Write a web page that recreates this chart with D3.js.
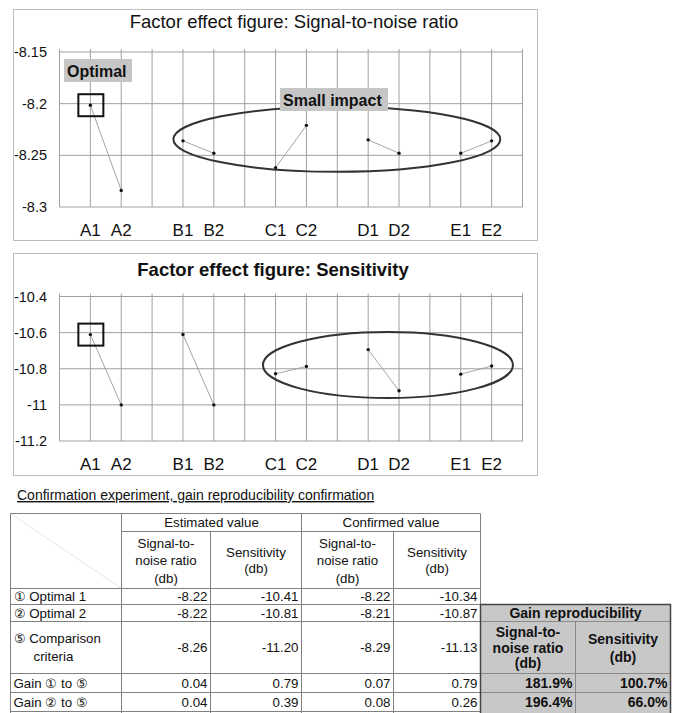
<!DOCTYPE html>
<html>
<head>
<meta charset="utf-8">
<script src="https://cdn.jsdelivr.net/npm/d3@7"></script>
<style>
  body { margin: 0; background: #fff; }
  svg { display: block; font-family: "Liberation Sans", Arial, sans-serif; }
</style>
</head>
<body>
<script>
// factor levels on the x axis
const factors = ["A", "B", "C", "D", "E"];
const levels = ["1", "2"];
const categories = factors.flatMap(f => levels.map(l => f + l));

// factor effect values
const snValues = [-8.2015, -8.284, -8.236, -8.248, -8.262, -8.221, -8.235, -8.248, -8.248, -8.236];
const sensValues = [-10.611, -11.0, -10.61, -11.0, -10.828, -10.787, -10.694, -10.922, -10.83, -10.785];
const snTicks = [-8.3, -8.25, -8.2, -8.15];
const sensTicks = [-11.2, -11, -10.8, -10.6, -10.4];

// confirmation table
const rowLabels = [["① Optimal 1"], ["② Optimal 2"], ["⑤ Comparison", "criteria"], ["Gain ① to ⑤"], ["Gain ② to ⑤"]];
const estSN = [-8.22, -8.22, -8.26, 0.04, 0.04];
const estSens = [-10.41, -10.81, -11.20, 0.79, 0.39];
const confSN = [-8.22, -8.21, -8.29, 0.07, 0.08];
const confSens = [-10.34, -10.87, -11.13, 0.79, 0.26];
const reproSN = [181.9, 196.4];
const reproSens = [100.7, 66.0];

const svg = d3.select("body").append("svg")
  .attr("width", 677)
  .attr("height", 713);

// slots: a blank slot before each factor and one at the end
const slots = factors.flatMap(f => ["gap" + f, ...levels.map(l => f + l)]).concat(["end"]);
const x = d3.scalePoint().domain(slots).range([59.5, 522.5]);
const u = d3.scaleLinear().domain([0, slots.length - 1]).range(x.range());

function drawChart(opt) {
  const g = svg.append("g");
  const y = d3.scaleLinear().domain(d3.extent(opt.ticks)).range(opt.yRange);

  g.append("rect")
    .attr("x", opt.panel[0]).attr("y", opt.panel[1])
    .attr("width", opt.panel[2]).attr("height", opt.panel[3])
    .attr("fill", "#fff").attr("stroke", "#bdbdbd");

  g.append("text")
    .attr("x", opt.titleX).attr("y", opt.titleY)
    .attr("text-anchor", "middle")
    .style("font-size", "18.5px")
    .style("font-weight", opt.titleBold ? "bold" : "normal")
    .attr("fill", "#111")
    .text(opt.title);

  // grid
  g.selectAll("line.v").data(slots).enter().append("line")
    .attr("x1", d => x(d)).attr("x2", d => x(d))
    .attr("y1", opt.yRange[1] - 3).attr("y2", opt.yRange[0])
    .attr("stroke", "#a0a0a0").attr("stroke-width", 1);
  g.selectAll("line.h").data(opt.ticks).enter().append("line")
    .attr("x1", x.range()[0]).attr("x2", x.range()[1])
    .attr("y1", d => y(d)).attr("y2", d => y(d))
    .attr("stroke", "#a0a0a0").attr("stroke-width", 1);

  g.selectAll("text.tick").data(opt.ticks).enter().append("text")
    .attr("x", 47).attr("y", d => y(d)).attr("dy", "0.35em")
    .attr("text-anchor", "end")
    .style("font-size", "14.5px").attr("fill", "#111")
    .text(d => String(d));

  g.selectAll("text.cat").data(categories).enter().append("text")
    .attr("x", d => x(d)).attr("y", opt.yRange[0] + 29)
    .attr("text-anchor", "middle")
    .style("font-size", "17px").attr("fill", "#111")
    .text(d => d);

  const pts = categories.map((c, i) => ({ c: c, v: opt.values[i] }));
  const line = d3.line().x(d => x(d.c)).y(d => y(d.v));
  factors.forEach((f, i) => {
    g.append("path")
      .attr("d", line(pts.slice(i * 2, i * 2 + 2)))
      .attr("fill", "none").attr("stroke", "#9a9a9a").attr("stroke-width", 0.9);
  });
  g.selectAll("circle").data(pts).enter().append("circle")
    .attr("cx", d => x(d.c)).attr("cy", d => y(d.v)).attr("r", 1.7)
    .attr("fill", "#111");

  // optimal box around A1
  g.append("rect")
    .attr("x", x("A1") - 12).attr("y", y(opt.values[0]) - 11)
    .attr("width", 25).attr("height", 22)
    .attr("fill", "none").attr("stroke", "#111").attr("stroke-width", 2);

  // small impact ellipse
  const e = opt.ellipse;
  g.append("ellipse")
    .attr("cx", (u(e.x[0]) + u(e.x[1])) / 2)
    .attr("cy", (y(e.y[0]) + y(e.y[1])) / 2)
    .attr("rx", (u(e.x[1]) - u(e.x[0])) / 2)
    .attr("ry", Math.abs(y(e.y[1]) - y(e.y[0])) / 2)
    .attr("fill", "none").attr("stroke", "#333").attr("stroke-width", 2);

  (opt.callouts || []).forEach(c => {
    g.append("rect")
      .attr("x", c.x).attr("y", c.y).attr("width", c.w).attr("height", 23)
      .attr("fill", "#c6c6c6");
    g.append("text")
      .attr("x", c.x + 3).attr("y", c.y + 17.5)
      .style("font-size", "16px").style("font-weight", "bold").attr("fill", "#111")
      .text(c.text);
  });
}

drawChart({
  panel: [13.5, 9.5, 524, 231],
  title: "Factor effect figure: Signal-to-noise ratio",
  titleX: 294, titleY: 28, titleBold: false,
  values: snValues, ticks: snTicks, yRange: [207, 52],
  ellipse: { x: [3.69, 14.28], y: [-8.203, -8.266] },
  callouts: [
    { text: "Optimal", x: 64, y: 59, w: 68 },
    { text: "Small impact", x: 280, y: 88, w: 108 }
  ]
});

drawChart({
  panel: [13.5, 253.5, 524, 222],
  title: "Factor effect figure: Sensitivity",
  titleX: 273, titleY: 276, titleBold: true,
  values: sensValues, ticks: sensTicks, yRange: [441, 296.5],
  ellipse: { x: [6.59, 14.69], y: [-10.5965, -10.962] }
});

// ---- table ----
const t = svg.append("g");
const colX = [10.5, 121.5, 210.5, 301.5, 393.5, 480.5, 575.5, 670.5];
const rowY = [513.5, 531.5, 588.5, 604.5, 621.5, 673.5, 692.5, 711.5];
const ink = "#111";

t.append("text")
  .attr("x", 17).attr("y", 500)
  .style("font-size", "14px").attr("fill", ink)
  .attr("text-decoration", "underline")
  .text("Confirmation experiment, gain reproducibility confirmation");

function hline(x1, x2, yy, col) {
  t.append("line").attr("x1", x1).attr("x2", x2).attr("y1", yy).attr("y2", yy)
    .attr("stroke", col || "#808080");
}
function vline(xx, y1, y2, col) {
  t.append("line").attr("x1", xx).attr("x2", xx).attr("y1", y1).attr("y2", y2)
    .attr("stroke", col || "#808080");
}
function label(lines, xx, cy, anchor, bold, gap) {
  const step = gap || 17.5;
  lines.forEach((s, i) => {
    t.append("text")
      .attr("x", xx).attr("y", cy + (i - (lines.length - 1) / 2) * step)
      .attr("dy", "0.36em")
      .attr("text-anchor", anchor)
      .style("font-size", bold ? "14px" : "13.3px").style("font-weight", bold ? "bold" : "normal")
      .attr("fill", ink)
      .text(s);
  });
}

// gray block for gain reproducibility
t.append("rect")
  .attr("x", colX[5]).attr("y", rowY[3])
  .attr("width", colX[7] - colX[5]).attr("height", rowY[7] - rowY[3] + 4)
  .attr("fill", "#c8c8c8");

// diagonal in the corner cell
t.append("line").attr("x1", colX[0]).attr("y1", rowY[0]).attr("x2", colX[1]).attr("y2", rowY[2])
  .attr("stroke", "#e6e6e6");

hline(colX[0], colX[5], rowY[0]);
hline(colX[1], colX[5], rowY[1]);
rowY.slice(2).forEach(yy => hline(colX[0], colX[5], yy));
vline(colX[0], rowY[0], 713);
vline(colX[1], rowY[0], 713);
vline(colX[2], rowY[1], 713);
vline(colX[3], rowY[0], 713);
vline(colX[4], rowY[1], 713);
vline(colX[5], rowY[0], rowY[3]);

// gray block lines
[rowY[4], rowY[5], rowY[6]].forEach(yy => hline(colX[5], colX[7], yy, "#8a8a8a"));
vline(colX[6], rowY[4], 713, "#8a8a8a");
t.append("path")
  .attr("d", `M${colX[5]},713V${rowY[3]}H${colX[7]}V713`)
  .attr("fill", "none").attr("stroke", "#444").attr("stroke-width", 1.5);

// headers
const mid = (a, b) => (a + b) / 2;
label(["Estimated value"], mid(colX[1], colX[3]), mid(rowY[0], rowY[1]), "middle");
label(["Confirmed value"], mid(colX[3], colX[5]), mid(rowY[1], rowY[0]), "middle");
[1, 3].forEach(c => {
  label(["Signal-to-", "noise ratio", "(db)"], mid(colX[c], colX[c + 1]), mid(rowY[1], rowY[2]) + 0.5, "middle");
  label(["Sensitivity", "(db)"], mid(colX[c + 1], colX[c + 2]), mid(rowY[1], rowY[2]), "middle", false, 16);
});
label(["Gain reproducibility"], mid(colX[5], colX[7]), mid(rowY[3], rowY[4]), "middle", true);
label(["Signal-to-", "noise ratio", "(db)"], mid(colX[5], colX[6]), mid(rowY[4], rowY[5]), "middle", true, 15.5);
label(["Sensitivity", "(db)"], mid(colX[6], colX[7]), mid(rowY[4], rowY[5]), "middle", true, 18);

// body rows
rowLabels.forEach((lines, i) => {
  const cy = mid(rowY[i + 2], rowY[i + 3]);
  if (lines.length === 1) {
    label(lines, colX[0] + 3, cy, "start");
  } else {
    label([lines[0]], colX[0] + 3, cy - 9, "start");
    label([lines[1]], colX[0] + 23, cy + 9, "start");
  }
  [estSN, estSens, confSN, confSens].forEach((arr, c) => {
    label([arr[i].toFixed(2)], colX[c + 2] - 3, cy, "end");
  });
});
reproSN.forEach((v, i) => {
  const cy = mid(rowY[i + 5], rowY[i + 6]);
  label([v.toFixed(1) + "%"], colX[6] - 3, cy, "end", true);
  label([reproSens[i].toFixed(1) + "%"], colX[7] - 3, cy, "end", true);
});
</script>
</body>
</html>
